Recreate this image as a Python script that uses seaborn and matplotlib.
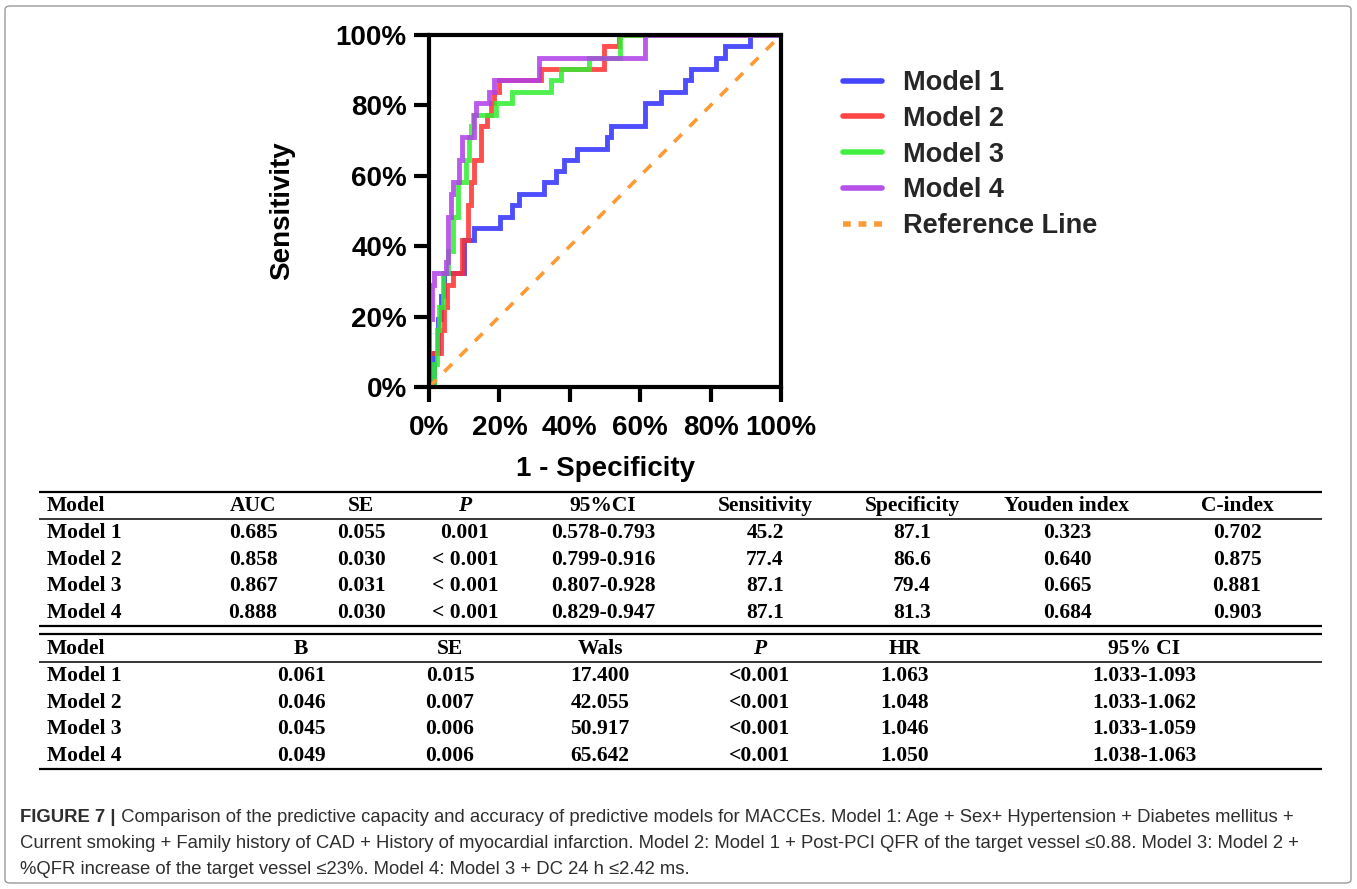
import matplotlib
matplotlib.use("Agg")
import matplotlib.pyplot as plt
import seaborn as sns
import pandas as pd
from matplotlib.lines import Line2D
from matplotlib.patches import FancyBboxPatch

# ---------------- data ----------------
model_names = ["Model 1", "Model 2", "Model 3", "Model 4"]
model_colors = ["#2f2fff", "#ff2f2f", "#2fee2f", "#b03ee8"]

fpr_m1 = [0, 1.3, 2.5, 3.5, 4.3, 9.9, 12.8, 20.3, 23.7, 25.5, 32.6, 36.0, 38.3, 42.1,
          50.6, 51.6, 61.5, 65.8, 72.8, 74.3, 81.4, 84.2, 91.3, 100]
tpr_m1 = [0, 9.7, 19.4, 25.8, 32.3, 41.9, 45.2, 48.4, 51.6, 54.8, 58.1, 61.3, 64.5, 67.7,
          71.0, 74.2, 80.6, 83.9, 87.1, 90.3, 93.5, 96.8, 100, 100]

fpr_m2 = [0, 0, 3.4, 4.2, 5.0, 6.7, 9.5, 11.0, 11.9, 12.8, 14.7, 16.6, 17.6, 18.5, 19.9,
          31.7, 49.7, 53.9, 100]
tpr_m2 = [0, 9.7, 16.1, 22.6, 29.0, 32.3, 41.9, 51.6, 58.1, 64.5, 74.2, 77.4, 80.6, 83.9, 87.1,
          90.3, 96.8, 100, 100]

fpr_m3 = [0, 1.5, 2.3, 2.9, 3.9, 5.3, 6.7, 8.1, 10.5, 11.4, 11.9, 12.5, 19.0, 23.7, 34.6,
          37.4, 45.4, 54.4, 100]
tpr_m3 = [0, 6.5, 16.1, 22.6, 32.3, 38.7, 48.4, 58.1, 64.5, 71.0, 74.2, 77.4, 80.6, 83.9, 87.1,
          90.3, 93.5, 100, 100]

fpr_m4 = [0, 0, 0.9, 1.5, 4.8, 5.3, 6.2, 6.7, 8.6, 9.5, 12.7, 13.3, 17.1, 18.5, 31.2, 61.5, 100]
tpr_m4 = [0, 19.4, 29.0, 32.3, 35.5, 48.4, 54.8, 58.1, 64.5, 71.0, 77.4, 80.6, 83.9, 87.1,
          93.5, 100, 100]

ref_x = [0, 100]
ref_y = [0, 100]

tick_vals = [0, 20, 40, 60, 80, 100]
tick_labels = ["0%", "20%", "40%", "60%", "80%", "100%"]

t1_header = ["Model", "AUC", "SE", "P", "95%CI", "Sensitivity", "Specificity", "Youden index", "C-index"]
t1_auc = ["0.685", "0.858", "0.867", "0.888"]
t1_se = ["0.055", "0.030", "0.031", "0.030"]
t1_p = ["0.001", "< 0.001", "< 0.001", "< 0.001"]
t1_ci = ["0.578-0.793", "0.799-0.916", "0.807-0.928", "0.829-0.947"]
t1_sens = ["45.2", "77.4", "87.1", "87.1"]
t1_spec = ["87.1", "86.6", "79.4", "81.3"]
t1_youden = ["0.323", "0.640", "0.665", "0.684"]
t1_cindex = ["0.702", "0.875", "0.881", "0.903"]

t2_header = ["Model", "B", "SE", "Wals", "P", "HR", "95% CI"]
t2_b = ["0.061", "0.046", "0.045", "0.049"]
t2_se = ["0.015", "0.007", "0.006", "0.006"]
t2_wals = ["17.400", "42.055", "50.917", "65.642"]
t2_p = ["<0.001", "<0.001", "<0.001", "<0.001"]
t2_hr = ["1.063", "1.048", "1.046", "1.050"]
t2_ci = ["1.033-1.093", "1.033-1.062", "1.033-1.059", "1.038-1.063"]

caption_bold = "FIGURE 7 |"
caption_lines = [
    " Comparison of the predictive capacity and accuracy of predictive models for MACCEs. Model 1: Age + Sex+ Hypertension + Diabetes mellitus +",
    "Current smoking + Family history of CAD + History of myocardial infarction. Model 2: Model 1 + Post-PCI QFR of the target vessel \u22640.88. Model 3: Model 2 +",
    "%QFR increase of the target vessel \u226423%. Model 4: Model 3 + DC 24 h \u22642.42 ms.",
]

# ---------------- figure ----------------
sns.set_theme(style="ticks")
plt.rcParams["font.family"] = ["Liberation Sans", "DejaVu Sans"]

W, H = 1357, 889
fig = plt.figure(figsize=(W / 100, H / 100), dpi=100)
fig.patch.set_facecolor("white")

def fx(px):
    return px / W

def fy(py):
    return 1 - py / H

# outer border
fig.add_artist(FancyBboxPatch((fx(5), fy(883)), fx(1351) - fx(5), fy(6) - fy(883),
                              boxstyle="round,pad=0,rounding_size=0.004",
                              transform=fig.transFigure, fill=False,
                              edgecolor="#9a9a9a", linewidth=1.0))

ax = fig.add_axes([fx(429), fy(387), fx(781) - fx(429), fy(35) - fy(387)])

fprs = [fpr_m1, fpr_m2, fpr_m3, fpr_m4]
tprs = [tpr_m1, tpr_m2, tpr_m3, tpr_m4]
for name, col, fp, tp in zip(model_names, model_colors, fprs, tprs):
    df = pd.DataFrame({"fpr": fp, "tpr": tp})
    sns.lineplot(data=df, x="fpr", y="tpr", ax=ax, color=col, linewidth=3.5,
                 alpha=0.85, sort=False, estimator=None, drawstyle="steps-post",
                 solid_capstyle="butt", solid_joinstyle="miter")

sns.lineplot(x=ref_x, y=ref_y, ax=ax, color="#ff9a33", linewidth=2.6,
             linestyle=(0, (3.0, 3.0)), estimator=None)

ax.set_xlim(0, 100)
ax.set_ylim(0, 100)
ax.set_xticks(tick_vals)
ax.set_yticks(tick_vals)
ax.set_xticklabels(tick_labels, fontsize=20, fontweight="bold")
ax.set_yticklabels(tick_labels, fontsize=20, fontweight="bold")
for sp in ax.spines.values():
    sp.set_linewidth(3.0)
    sp.set_color("black")
    sp.set_visible(True)
ax.tick_params(axis="both", length=11, width=3.0, color="black", pad=5, labelcolor="black")
ax.tick_params(axis="x", pad=9)
ax.set_xlabel("1 - Specificity", fontsize=20, fontweight="bold", color="black")
ax.set_ylabel("Sensitivity", fontsize=20, fontweight="bold", color="black")
ax.xaxis.set_label_coords(0.5, -0.196)
ax.yaxis.set_label_coords(-0.38, 0.5)
ax.set_facecolor("white")

handles = [Line2D([0], [0], color=c, linewidth=4, alpha=0.9) for c in model_colors]
handles.append(Line2D([0], [0], color="#ff9a33", linewidth=4, linestyle=(0, (1.4, 1.4))))
fig.legend(handles, model_names + ["Reference Line"], loc="upper left",
           bbox_to_anchor=(fx(843), fy(70)), frameon=False, prop={"size": 19.5, "weight": "bold"},
           handlelength=1.45, handletextpad=0.75, labelspacing=0.36, borderpad=0, borderaxespad=0)

# ---------------- tables ----------------
tax = fig.add_axes([0, 0, 1, 1])
tax.set_xlim(0, W)
tax.set_ylim(H, 0)
tax.axis("off")

serif = ["Liberation Serif", "DejaVu Serif"]
tfs = 15.5

def hline(y, lw):
    tax.plot([39, 1322], [y, y], color="black", linewidth=lw, solid_capstyle="butt")

def cell(x, y, s, ha="center", italic=False):
    tax.text(x, y, s, ha=ha, va="center", fontsize=tfs, fontweight="bold",
             family=serif, style="italic" if italic else "normal", color="black")

# table 1
t1_x = [47, 253, 361, 465, 603, 765, 912, 1067, 1237]
t1_cols = [model_names, t1_auc, t1_se, t1_p, t1_ci, t1_sens, t1_spec, t1_youden, t1_cindex]
hline(491.5, 1.6)
hline(518.5, 1.1)
for j, (x, h) in enumerate(zip(t1_x, t1_header)):
    cell(x, 506, h, ha="left" if j == 0 else "center", italic=(h == "P"))
for j, (x, col) in enumerate(zip(t1_x, t1_cols)):
    for i, v in enumerate(col):
        cell(x, 533 + i * 26.7, v, ha="left" if j == 0 else "center")
hline(626, 1.6)
hline(634, 1.6)

# table 2
t2_x = [47, 301, 450, 600, 760, 905, 1144]
t2_cols = [model_names, t2_b, t2_se, t2_wals, t2_p, t2_hr, t2_ci]
for j, (x, h) in enumerate(zip(t2_x, t2_header)):
    cell(x, 649, h, ha="left" if j == 0 else "center", italic=(h == "P"))
hline(662, 1.1)
for j, (x, col) in enumerate(zip(t2_x, t2_cols)):
    for i, v in enumerate(col):
        cell(x, 676 + i * 26.7, v, ha="left" if j == 0 else "center")
hline(769, 1.6)

# ---------------- caption ----------------
cap_col = "#2e2e2e"
cfs = 13.3
renderer = fig.canvas.get_renderer()
tb = tax.text(20, 817, caption_bold, ha="left", va="center", fontsize=cfs,
              fontweight="bold", color=cap_col)
bb = tb.get_window_extent(renderer)
x_end = bb.x1  # display pixels (dpi 100, same as our pixel grid)
tax.text(x_end, 817, caption_lines[0], ha="left", va="center", fontsize=cfs, color=cap_col)
tax.text(20, 843.5, caption_lines[1], ha="left", va="center", fontsize=cfs, color=cap_col)
tax.text(20, 870, caption_lines[2], ha="left", va="center", fontsize=cfs, color=cap_col)

fig.savefig("out.png", dpi=100, facecolor="white")
